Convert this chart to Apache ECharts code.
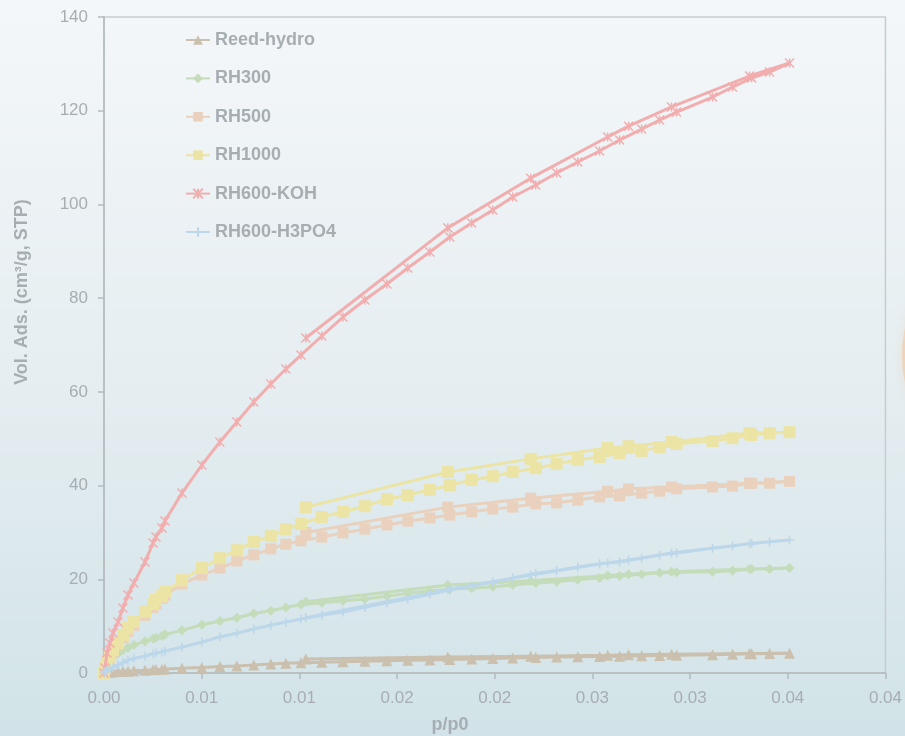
<!DOCTYPE html>
<html>
<head>
<meta charset="utf-8">
<title>N2 adsorption isotherms (low pressure)</title>
<script src="https://cdn.jsdelivr.net/npm/echarts@6.0.0/dist/echarts.min.js"></script>
<style>
  html, body { margin: 0; padding: 0; width: 905px; height: 736px; overflow: hidden; }
  #chart { width: 905px; height: 736px; }
</style>
</head>
<body>
<div id="chart"></div>
<script>
// Relative pressure points, adsorption branch (shared by all samples)
const pAds = [0, 0.00005, 0.00015, 0.0003, 0.00046, 0.00072, 0.00097, 0.00123, 0.00153, 0.0021,
  0.00251, 0.00266, 0.00297, 0.00312, 0.00399, 0.00501, 0.00593, 0.0068, 0.00767, 0.00854,
  0.00931, 0.01008, 0.01115, 0.01223, 0.01335, 0.01448, 0.01555, 0.01668, 0.0177, 0.01882,
  0.0199, 0.02092, 0.0221, 0.02317, 0.02425, 0.02537, 0.02639, 0.02752, 0.02844, 0.02931,
  0.03115, 0.03217, 0.03315, 0.03407, 0.03509];
// Relative pressure points, desorption branch
const pDes = [0.03304, 0.02905, 0.02685, 0.02578, 0.02184, 0.0176, 0.01033];

// Volume adsorbed (cm3/g STP)
const reedAds = [0, 0.05, 0.1, 0.15, 0.2, 0.3, 0.35, 0.4, 0.5, 0.6, 0.7, 0.75, 0.8, 0.85, 1.0,
  1.2, 1.4, 1.5, 1.7, 1.9, 2.1, 2.2, 2.3, 2.4, 2.5, 2.6, 2.7, 2.8, 2.9, 3.0, 3.1, 3.2, 3.3,
  3.4, 3.45, 3.5, 3.6, 3.7, 3.75, 3.8, 3.9, 4.0, 4.1, 4.15, 4.2];
const reedDes = [4.15, 4.0, 3.9, 3.8, 3.6, 3.4, 3.0];

const rh300Ads = [0, 0.8, 1.8, 2.6, 3.3, 4.2, 4.9, 5.4, 6.0, 6.8, 7.3, 7.5, 7.9, 8.2, 9.1,
  10.3, 11.1, 11.8, 12.7, 13.3, 14.0, 14.6, 15.0, 15.4, 15.8, 16.4, 17.0, 17.5, 17.9, 18.1,
  18.4, 18.8, 19.2, 19.5, 19.9, 20.3, 20.7, 21.1, 21.4, 21.5, 21.6, 21.8, 22.2, 22.2, 22.4];
const rh300Des = [22.2, 21.6, 21.1, 20.8, 19.7, 18.8, 15.2];

const rh500Ads = [0, 1.0, 2.1, 3.3, 4.5, 6.0, 7.5, 8.9, 10.2, 12.3, 14.0, 14.7, 16.0, 16.6, 19.0,
  20.9, 22.4, 23.9, 25.2, 26.5, 27.5, 28.2, 29.0, 29.9, 30.7, 31.6, 32.4, 33.1, 33.7, 34.4,
  35.0, 35.4, 36.1, 36.3, 36.9, 37.6, 37.8, 38.4, 38.8, 39.3, 39.7, 39.9, 40.5, 40.5, 40.9];
const rh500Des = [40.5, 39.7, 39.3, 38.8, 37.3, 35.4, 30.0];

const rh1000Ads = [0, 1.1, 2.3, 3.6, 4.9, 6.4, 8.1, 9.6, 10.9, 13.0, 14.7, 15.6, 16.4, 17.3, 19.8,
  22.4, 24.5, 26.2, 28.0, 29.2, 30.7, 31.8, 33.3, 34.4, 35.6, 37.1, 38.0, 39.1, 40.1, 41.2,
  42.0, 42.9, 43.7, 44.6, 45.5, 46.1, 46.9, 47.4, 48.2, 48.9, 49.5, 50.1, 50.8, 51.2, 51.4];
const rh1000Des = [51.2, 49.3, 48.4, 48.0, 45.7, 42.9, 35.4];

const kohAds = [0, 1.07, 4.27, 6.4, 8.54, 10.88, 13.87, 16.65, 19.21, 23.69, 27.74, 29.02, 30.94,
  32.44, 38.41, 44.39, 49.3, 53.56, 57.83, 61.67, 64.87, 67.86, 71.92, 75.97, 79.6, 83.01,
  86.43, 89.84, 93.04, 96.03, 98.81, 101.58, 104.14, 106.7, 109.05, 111.4, 113.74, 116.09,
  118.01, 119.72, 122.92, 125.05, 126.97, 128.25, 130.18];
const kohDes = [127.4, 120.8, 116.7, 114.4, 105.6, 95.0, 71.5];

const h3po4Ads = [0, 0.3, 0.6, 0.9, 1.2, 1.7, 2.2, 2.7, 3.1, 3.6, 4.1, 4.3, 4.5, 4.7, 5.5, 6.6,
  7.7, 8.5, 9.4, 10.2, 10.9, 11.5, 12.3, 13.0, 14.0, 15.0, 15.8, 16.8, 17.7, 18.5, 19.4, 20.3,
  21.3, 21.9, 22.6, 23.3, 23.7, 24.5, 25.2, 25.6, 26.6, 27.1, 27.7, 28.0, 28.4];
const h3po4Des = [27.6, 25.6, 24.1, 23.5, 20.9, 17.8, 11.8];

const seriesNames = ['Reed-hydro', 'RH300', 'RH500', 'RH1000', 'RH600-KOH', 'RH600-H3PO4'];

// Tick labels along p/p0 (two decimals)
const xTickLabels = ['0.00', '0.01', '0.01', '0.02', '0.02', '0.03', '0.03', '0.04', '0.04'];
const yTickLabels = ['0', '20', '40', '60', '80', '100', '120', '140'];

// Adsorption branch followed by desorption branch, as one continuous trace
function isotherm(ads, des) {
  const pts = ads.map((v, i) => [pAds[i], v]);
  des.forEach((v, i) => pts.push([pDes[i], v]));
  return pts;
}

const FONT = '"Liberation Sans", Arial, sans-serif';
const textGrey = '#a7aeb2';

const styles = [
  { color: '#cbbfae', symbol: 'triangle', size: 11 },
  { color: '#c4dcb9', symbol: 'diamond', size: 10 },
  { color: '#e9d1bd', symbol: 'rect', size: 11 },
  { color: '#ece4a4', symbol: 'rect', size: 12 },
  { color: '#f2adae', symbol: 'path://M0,0L10,10M10,0L0,10M5,0L5,10', size: 9 },
  { color: '#bcd6ea', symbol: 'path://M5,0L5,10M0,5L10,5', size: 9 }
];

const dataSets = [
  isotherm(reedAds, reedDes),
  isotherm(rh300Ads, rh300Des),
  isotherm(rh500Ads, rh500Des),
  isotherm(rh1000Ads, rh1000Des),
  isotherm(kohAds, kohDes),
  isotherm(h3po4Ads, h3po4Des)
];

const series = seriesNames.map((name, i) => {
  const st = styles[i];
  const isPath = st.symbol.startsWith('path://');
  return {
    name: name,
    type: 'line',
    data: dataSets[i],
    symbol: st.symbol,
    symbolSize: st.size,
    showAllSymbol: true,
    lineStyle: { color: st.color, width: 3 },
    itemStyle: isPath
      ? { color: st.color, borderColor: st.color, borderWidth: 1.5 }
      : { color: st.color, borderWidth: 0 },
    emphasis: { disabled: true },
    z: 2 + i
  };
});

const chart = echarts.init(document.getElementById('chart'), null, { renderer: 'canvas' });

chart.setOption({
  animation: false,
  backgroundColor: {
    type: 'linear', x: 0, y: 0, x2: 0, y2: 1,
    colorStops: [
      { offset: 0, color: '#f4f7f9' },
      { offset: 0.5, color: '#e6eef1' },
      { offset: 1, color: '#d1e3e8' }
    ]
  },
  grid: {
    left: 104, right: 19, top: 17, bottom: 63,
    show: true, borderColor: '#c6cdd1', borderWidth: 1.5,
    backgroundColor: 'transparent'
  },
  legend: {
    orient: 'vertical',
    left: 185, top: 31, padding: 0,
    itemWidth: 24, itemHeight: 12,
    itemGap: 20.4,
    data: seriesNames,
    textStyle: { color: textGrey, fontFamily: FONT, fontWeight: 'bold', fontSize: 18, lineHeight: 18 },
    selectedMode: false
  },
  xAxis: {
    type: 'value',
    min: 0, max: 0.04, interval: 0.005,
    axisLine: { show: true, lineStyle: { color: '#b2babe', width: 1.5 } },
    axisTick: { show: true, inside: false, length: 6, lineStyle: { color: '#b2babe', width: 1.5 } },
    splitLine: { show: false },
    axisLabel: {
      color: textGrey, fontFamily: FONT, fontSize: 17, margin: 17,
      formatter: (v) => xTickLabels[Math.round(v / 0.005)]
    }
  },
  yAxis: {
    type: 'value',
    min: 0, max: 140, interval: 20,
    axisLine: { show: true, lineStyle: { color: '#b2babe', width: 1.5 } },
    axisTick: { show: true, inside: false, length: 6, lineStyle: { color: '#b2babe', width: 1.5 } },
    splitLine: { show: false },
    axisLabel: {
      color: textGrey, fontFamily: FONT, fontSize: 17, margin: 16,
      formatter: (v) => yTickLabels[Math.round(v / 20)]
    }
  },
  graphic: [
    {
      type: 'ellipse', silent: true, z: 0,
      shape: { cx: 940, cy: 355, rx: 38, ry: 70 },
      style: { fill: 'rgba(244,196,150,0.5)', shadowBlur: 10, shadowColor: 'rgba(244,196,150,0.6)' }
    },
    {
      type: 'text', silent: true,
      x: 22, y: 292, rotation: Math.PI / 2,
      style: {
        text: 'Vol. Ads. (cm³/g, STP)', fill: textGrey,
        font: 'bold 18px ' + FONT, textAlign: 'center', textVerticalAlign: 'middle'
      }
    },
    {
      type: 'text', silent: true,
      x: 450, y: 725,
      style: {
        text: 'p/p0', fill: textGrey,
        font: 'bold 18px ' + FONT, textAlign: 'center', textVerticalAlign: 'middle'
      }
    }
  ],
  series: series
});
</script>
</body>
</html>
